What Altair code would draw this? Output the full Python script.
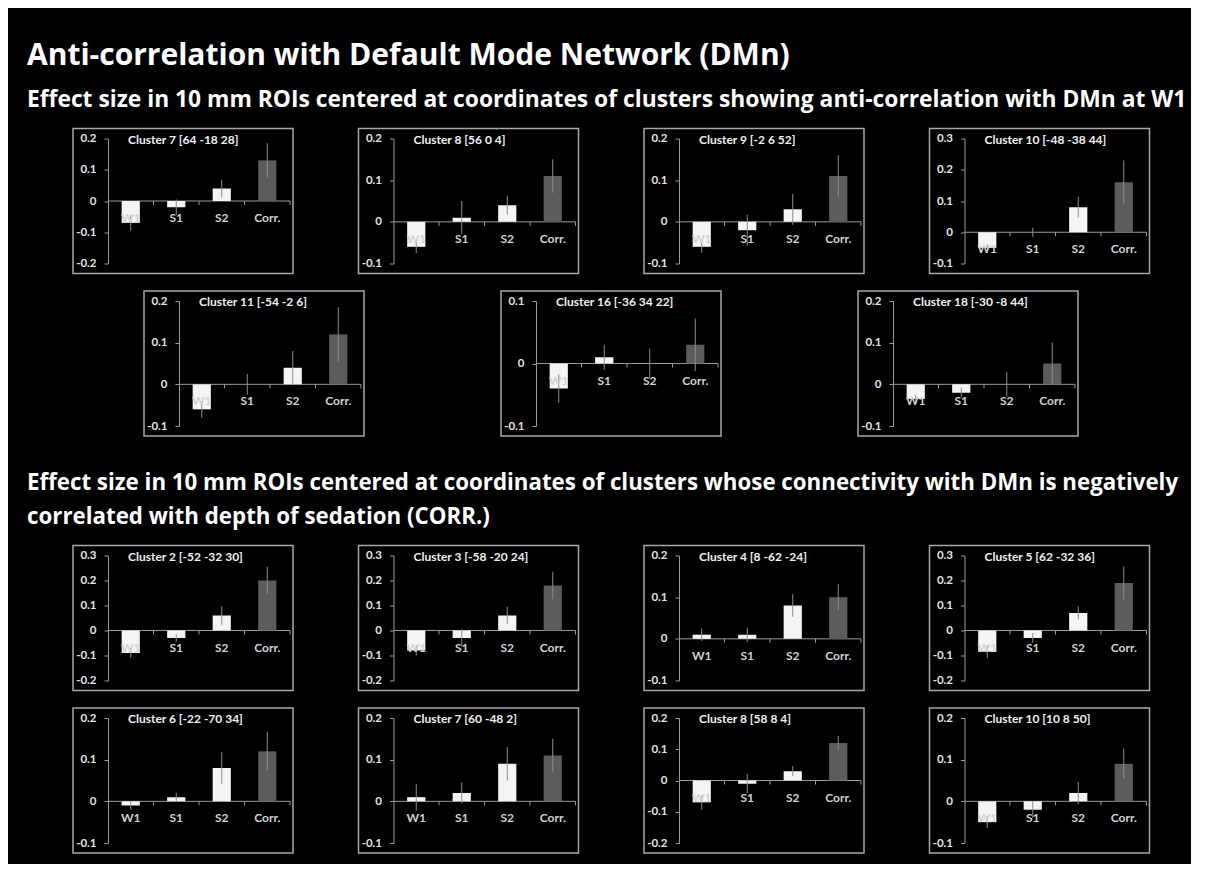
import altair as alt
import pandas as pd

CATS = ["W1", "S1", "S2", "Corr."]
CAT_POS = [0, 1, 2, 3]

# ---- Section A: clusters showing anti-correlation with DMn at W1 ----
TITLES_A = ["Cluster 7 [64 -18 28]", "Cluster 8 [56 0 4]", "Cluster 9 [-2 6 52]",
            "Cluster 10 [-48 -38 44]", "Cluster 11 [-54 -2 6]", "Cluster 16 [-36 34 22]",
            "Cluster 18 [-30 -8 44]"]
YMIN_A = [-0.2, -0.1, -0.1, -0.1, -0.1, -0.1, -0.1]
YMAX_A = [0.2, 0.2, 0.2, 0.3, 0.2, 0.1, 0.2]
W1_A = [-0.07, -0.06, -0.06, -0.05, -0.06, -0.04, -0.035]
S1_A = [-0.02, 0.01, -0.02, 0.0, 0.0, 0.01, -0.02]
S2_A = [0.04, 0.04, 0.03, 0.08, 0.04, 0.0, 0.0]
CORR_A = [0.13, 0.11, 0.11, 0.16, 0.12, 0.03, 0.05]
W1_ERR_A = [0.025, 0.015, 0.014, 0.01, 0.02, 0.023, 0.01]
S1_ERR_A = [0.025, 0.04, 0.037, 0.015, 0.025, 0.02, 0.012]
S2_ERR_A = [0.028, 0.023, 0.037, 0.033, 0.04, 0.024, 0.03]
CORR_ERR_A = [0.055, 0.04, 0.05, 0.07, 0.065, 0.042, 0.05]

# ---- Section B: clusters whose connectivity with DMn correlates with sedation ----
TITLES_B = ["Cluster 2 [-52 -32 30]", "Cluster 3 [-58 -20 24]", "Cluster 4 [8 -62 -24]",
            "Cluster 5 [62 -32 36]", "Cluster 6 [-22 -70 34]", "Cluster 7 [60 -48 2]",
            "Cluster 8 [58 8 4]", "Cluster 10 [10 8 50]"]
YMIN_B = [-0.2, -0.2, -0.1, -0.2, -0.1, -0.1, -0.2, -0.1]
YMAX_B = [0.3, 0.3, 0.2, 0.3, 0.2, 0.2, 0.2, 0.2]
W1_B = [-0.09, -0.08, 0.01, -0.085, -0.01, 0.01, -0.07, -0.05]
S1_B = [-0.03, -0.03, 0.01, -0.03, 0.01, 0.02, -0.01, -0.02]
S2_B = [0.06, 0.06, 0.08, 0.07, 0.08, 0.09, 0.03, 0.02]
CORR_B = [0.2, 0.18, 0.1, 0.19, 0.12, 0.11, 0.12, 0.09]
W1_ERR_B = [0.02, 0.02, 0.015, 0.025, 0.01, 0.032, 0.023, 0.014]
S1_ERR_B = [0.015, 0.035, 0.017, 0.02, 0.011, 0.025, 0.03, 0.02]
S2_ERR_B = [0.037, 0.035, 0.027, 0.026, 0.038, 0.04, 0.016, 0.027]
CORR_ERR_B = [0.055, 0.055, 0.032, 0.066, 0.047, 0.04, 0.023, 0.036]

MAIN_TITLE = "Anti-correlation with Default Mode Network (DMn)"
SUB_A = ("Effect size in 10 mm ROIs centered at coordinates of clusters showing "
         "anti-correlation with DMn at W1")
SUB_B1 = ("Effect size in 10 mm ROIs centered at coordinates of clusters whose "
          "connectivity with DMn is negatively")
SUB_B2 = "correlated with depth of sedation (CORR.)"

BIG_FONT = "Open Sans"
FONT = "Lato"
BAR_COLORS = ["#f4f4f4", "#f4f4f4", "#f4f4f4", "#5c5c5c"]
AXIS_GRAY = "#9a9a9a"
FRAME_GRAY = "#a8a8a8"
LABEL_COLOR = "#e4e4e4"

PW, PH = 182, 125  # plot area of each small panel
TEXT_X = -81       # headings start this far left of the first plot area


def panel(title, ymin, ymax, vals, errs):
    df = pd.DataFrame({"cat": CATS, "idx": CAT_POS, "v": vals, "e": errs})
    df["zero"] = 0.0
    nt = int(round((ymax - ymin) * 10))
    ticks = [round(ymin + k / 10, 1) for k in range(nt + 1)]
    yscale = alt.Scale(domain=[ymin, ymax], nice=False, zero=False)
    xscale = alt.Scale(domain=[0, 4], nice=False, zero=False)
    yaxis = alt.Axis(values=ticks, title=None, grid=False,
                     labelExpr="datum.value == 0 ? '0' : (datum.value < 0 ? '-' : '') + format(abs(datum.value), '.1f')",
                     domainColor=AXIS_GRAY, tickColor=AXIS_GRAY, tickSize=4,
                     labelPadding=8, labelColor=LABEL_COLOR, labelFont=FONT,
                     labelFontWeight="bold", labelFontSize=11.5)

    def Y(f):
        return alt.Y(f, scale=yscale, axis=yaxis)

    def X(f):
        return alt.X(f, scale=xscale, axis=None)

    one = pd.DataFrame({"a": [0.0], "b": [4.0], "zero": [0.0]})
    frame = alt.Chart(one).mark_rect(filled=False, stroke=FRAME_GRAY, strokeWidth=1.5).encode(
        x=alt.value(-35), x2=alt.value(PW + 3), y=alt.value(-10), y2=alt.value(PH + 10))
    zero_line = alt.Chart(one).mark_rule(color=AXIS_GRAY, strokeWidth=1).encode(
        x=X("a:Q"), x2="b:Q", y=Y("zero:Q"))
    tdf = pd.DataFrame({"t": [1.0, 2.0, 3.0, 4.0], "zero": [0.0] * 4})
    xticks = alt.Chart(tdf).mark_rule(color=AXIS_GRAY, strokeWidth=1, y2Offset=4).encode(
        x=X("t:Q"), y=Y("zero:Q"), y2="zero:Q")
    base = alt.Chart(df).transform_calculate(
        x0="datum.idx + 0.3", x1="datum.idx + 0.7", xc="datum.idx + 0.5",
        lo="datum.v - datum.e", hi="datum.v + datum.e")
    bars = base.mark_bar(strokeWidth=0).encode(
        x=X("x0:Q"), x2="x1:Q", y=Y("v:Q"), y2="zero:Q",
        color=alt.Color("cat:N", scale=alt.Scale(domain=CATS, range=BAR_COLORS), legend=None))
    errs_l = base.mark_rule(color="#8c8c8c", strokeWidth=1).encode(
        x=X("xc:Q"), y=Y("lo:Q"), y2="hi:Q")
    labels = base.mark_text(dy=17, baseline="middle", align="center", font=FONT,
                            fontWeight="bold", fontSize=12, color="#d2d2d2").encode(
        x=X("xc:Q"), y=Y("zero:Q"), text="cat:N")
    ttl = alt.Chart(one).mark_text(align="left", baseline="middle", font=FONT,
                                   fontWeight="bold", fontSize=12, color="#f0f0f0").encode(
        x=alt.value(20), y=alt.value(1), text=alt.value(title))
    return alt.layer(frame, zero_line, xticks, bars, errs_l, labels, ttl).properties(
        width=PW, height=PH)


def panels(titles, ymins, ymaxs, w1, s1, s2, corr, ew1, es1, es2, ecorr):
    out = []
    for i in range(len(titles)):
        out.append(panel(titles[i], ymins[i], ymaxs[i],
                         [w1[i], s1[i], s2[i], corr[i]],
                         [ew1[i], es1[i], es2[i], ecorr[i]]))
    return out


PA = panels(TITLES_A, YMIN_A, YMAX_A, W1_A, S1_A, S2_A, CORR_A,
            W1_ERR_A, S1_ERR_A, S2_ERR_A, CORR_ERR_A)
PB = panels(TITLES_B, YMIN_B, YMAX_B, W1_B, S1_B, S2_B, CORR_B,
            W1_ERR_B, S1_ERR_B, S2_ERR_B, CORR_ERR_B)

one_row = pd.DataFrame({"a": [0]})


def text_line(txt, y, size):
    return alt.Chart(one_row).mark_text(align="left", baseline="alphabetic", font=BIG_FONT,
                                        fontWeight="bold", fontSize=size, color="#ffffff").encode(
        x=alt.value(TEXT_X), y=alt.value(y), text=alt.value(txt))


header = alt.layer(text_line(MAIN_TITLE, 57, 30), text_line(SUB_A, 99, 22.8)).properties(
    width=100, height=80)
section = alt.layer(text_line(SUB_B1, 41.25, 22.3), text_line(SUB_B2, 75.25, 22.3)).properties(
    width=100, height=83.5)

# blank lead-in that shifts the centred second row to the right
indent = alt.Chart(one_row).mark_rule(color="#000000", strokeWidth=0.5).encode(
    x=alt.value(0), x2=alt.value(1), y=alt.value(1)).properties(width=34.25, height=4)


def row(ps, sp):
    return alt.hconcat(*ps, spacing=sp).resolve_scale(x="independent", y="independent")


row1 = row(PA[:4], 63.5)
row2 = alt.hconcat(indent, row(PA[4:], 135), spacing=0).resolve_scale(
    x="independent", y="independent")
row3 = row(PB[:4], 63.5)
row4 = row(PB[4:], 63.5)

top_rows = alt.vconcat(row1, row2, spacing=15.5).resolve_scale(x="independent", y="independent")
bottom_rows = alt.vconcat(row3, row4, spacing=15.5).resolve_scale(x="independent", y="independent")
body = alt.vconcat(top_rows, section, bottom_rows, spacing=11.5).resolve_scale(
    x="independent", y="independent")

chart = alt.vconcat(header, body, spacing=15.5).resolve_scale(
    x="independent", y="independent").properties(
    padding={"left": 19, "top": 0, "right": 4, "bottom": 10},
    background="#000000",
).configure_view(strokeWidth=0)

chart.save("out.html", embed_options={"renderer": "svg", "actions": False})
